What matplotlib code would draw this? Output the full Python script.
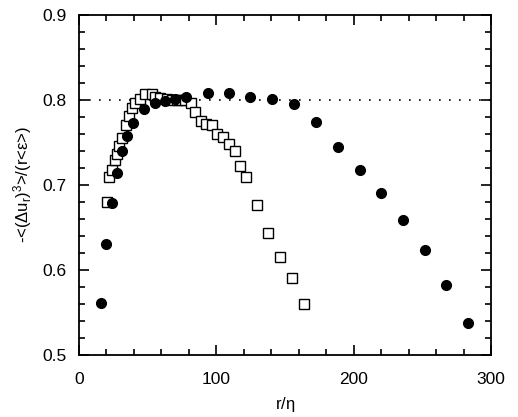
import matplotlib.pyplot as plt
from matplotlib.ticker import MultipleLocator

plt.rcParams['font.family'] = ['Liberation Sans', 'DejaVu Sans']
plt.rcParams['mathtext.fontset'] = 'custom'
plt.rcParams['mathtext.rm'] = 'Liberation Sans'
plt.rcParams['mathtext.it'] = 'Liberation Sans'

# filled circles
circ_x = [15.8, 19.7, 23.8, 27.4, 31.1, 35.2, 39.6, 47.3, 55.1, 62.6, 70.2, 78.0,
          93.7, 109.0, 124.5, 140.8, 156.6, 172.6, 188.9, 204.7, 220.2, 236.0,
          251.8, 267.3, 283.5]
circ_y = [0.561, 0.631, 0.679, 0.714, 0.740, 0.758, 0.773, 0.789, 0.797, 0.799, 0.801, 0.803,
          0.808, 0.808, 0.804, 0.801, 0.795, 0.774, 0.745, 0.717, 0.691, 0.659,
          0.623, 0.582, 0.537]

# open squares
sq_x = [20.6, 22.1, 24.0, 26.2, 27.7, 29.4, 31.3, 34.2, 36.7, 38.4, 40.8, 44.4, 48.1,
        52.9, 55.3, 59.0, 63.9, 67.5, 71.1, 74.8, 77.4, 81.5, 84.3, 88.5, 92.8, 96.8,
        100.3, 104.5, 109.5, 113.3, 117.0, 121.6, 129.5, 137.9, 146.4, 155.1, 163.6]
sq_y = [0.680, 0.709, 0.718, 0.729, 0.736, 0.746, 0.755, 0.771, 0.781, 0.791, 0.797, 0.801, 0.807,
        0.807, 0.804, 0.802, 0.801, 0.800, 0.800, 0.800, 0.800, 0.796, 0.786, 0.775, 0.772, 0.770,
        0.760, 0.756, 0.748, 0.740, 0.722, 0.709, 0.676, 0.644, 0.615, 0.591, 0.560]

plateau = 0.8

fig = plt.figure(figsize=(5.18, 4.17), dpi=100)
ax = fig.add_axes([0.1525, 0.149, 0.7955, 0.815])

ax.axhline(plateau, color='black', linestyle=(0, (1, 5)), linewidth=1.2)
ax.plot(sq_x, sq_y, 's', markersize=7, markerfacecolor='white',
        markeredgecolor='black', markeredgewidth=1.0)
ax.plot(circ_x, circ_y, 'o', markersize=7, color='black')

ax.set_xlim(0, 300)
ax.set_ylim(0.5, 0.9)
ax.xaxis.set_major_locator(MultipleLocator(100))
ax.xaxis.set_minor_locator(MultipleLocator(20))
ax.yaxis.set_major_locator(MultipleLocator(0.1))
ax.yaxis.set_minor_locator(MultipleLocator(0.02))
ax.tick_params(which='both', direction='in', top=True, right=True, labelsize=12.5, width=1.2)
ax.tick_params(which='major', length=7)
ax.tick_params(axis='x', which='major', pad=12)
ax.tick_params(axis='y', which='major', pad=9)
ax.tick_params(which='minor', length=4)
for s in ax.spines.values():
    s.set_linewidth(1.3)

ax.set_xlabel(r'r/$\eta$', fontsize=12, labelpad=6)
ax.set_ylabel(r'-<($\Delta$u$_r$)$^3$>/(r<$\varepsilon$>)', fontsize=12, labelpad=6)

fig.savefig('out.png', dpi=100)
